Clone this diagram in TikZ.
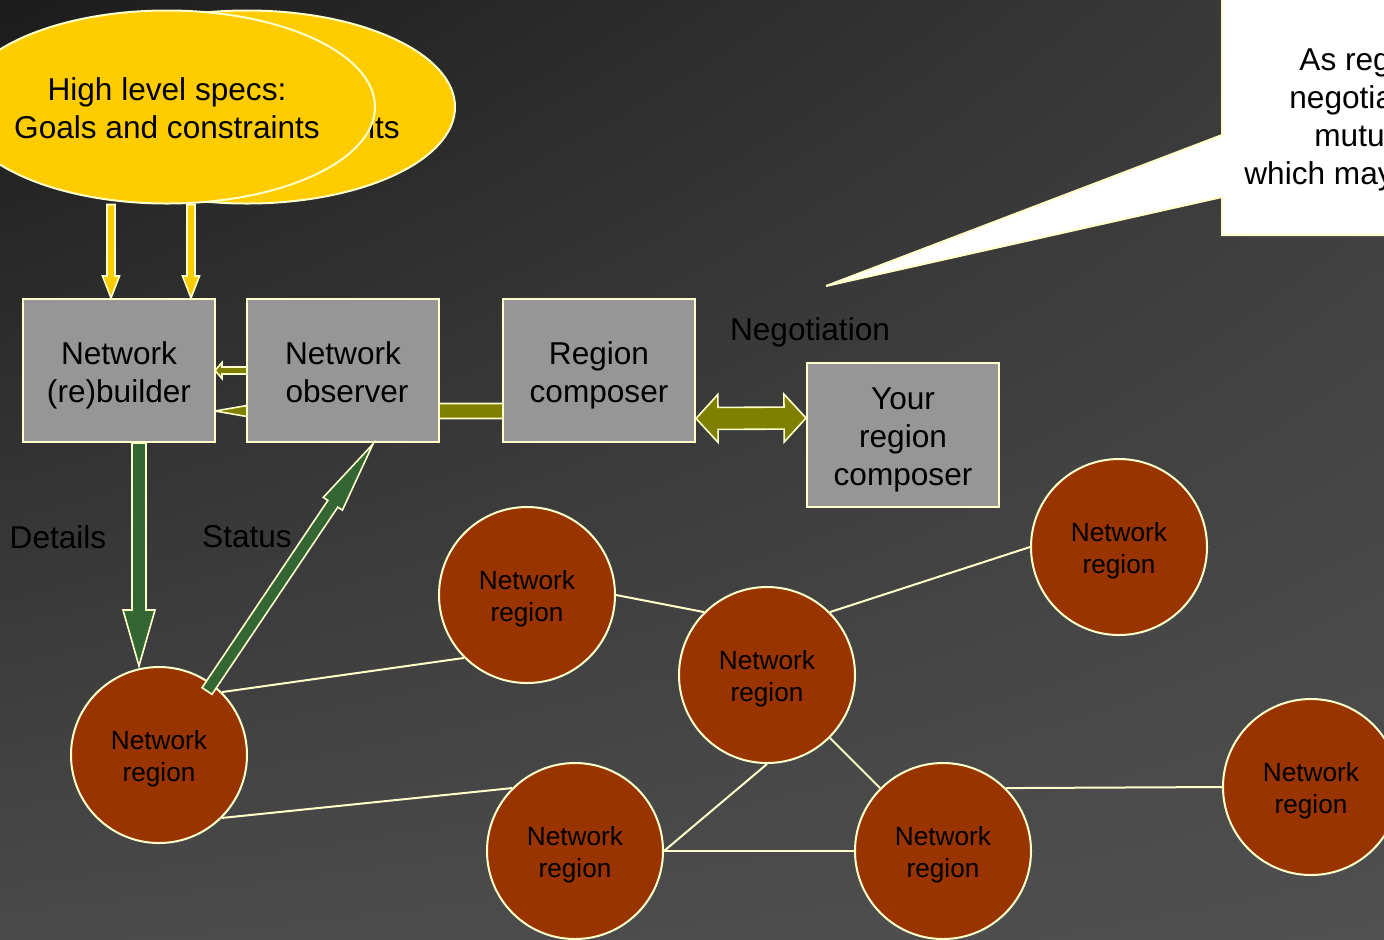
\documentclass[tikz,border=0pt]{standalone}
\usepackage{fontspec}
\setmainfont{Liberation Sans}
\usetikzlibrary{shapes.geometric,calc,shadings}
\definecolor{bgA}{HTML}{1C1C1C}
\definecolor{bgB}{HTML}{3C3C3C}
\definecolor{bgC}{HTML}{4A4A4A}
\definecolor{bgD}{HTML}{505050}
\definecolor{lyel}{HTML}{FFFFCC}
\definecolor{gold}{HTML}{FFCC00}
\definecolor{boxgray}{HTML}{969696}
\definecolor{rust}{HTML}{993300}
\definecolor{dgreen}{HTML}{336633}
\definecolor{olive}{HTML}{808000}
% block arrow: #1 style, #2 tail, #3 tip (both given with parentheses), #4 half shaft, #5 half head, #6 head length
\newcommand\blockarrow[6]{%
  \coordinate (ba-t) at #2;
  \coordinate (ba-h) at #3;
  \coordinate (ba-b) at ($(ba-h)!#6!(ba-t)$);
  \path[#1] ($(ba-t)!#4!90:(ba-h)$) -- ($(ba-b)!#4!-90:(ba-t)$) -- ($(ba-b)!#5!-90:(ba-t)$)
    -- (ba-h) -- ($(ba-b)!#5!90:(ba-t)$) -- ($(ba-b)!#4!90:(ba-t)$) -- ($(ba-t)!#4!-90:(ba-h)$) -- cycle;}
% double block arrow
\newcommand\dblarrow[6]{%
  \coordinate (da-t) at #2;
  \coordinate (da-h) at #3;
  \coordinate (da-bt) at ($(da-t)!#6!(da-h)$);
  \coordinate (da-bh) at ($(da-h)!#6!(da-t)$);
  \path[#1] (da-t) -- ($(da-bt)!#5!90:(da-h)$) -- ($(da-bt)!#4!90:(da-h)$) -- ($(da-bh)!#4!-90:(da-t)$)
    -- ($(da-bh)!#5!-90:(da-t)$) -- (da-h) -- ($(da-bh)!#5!90:(da-t)$) -- ($(da-bh)!#4!90:(da-t)$)
    -- ($(da-bt)!#4!-90:(da-h)$) -- ($(da-bt)!#5!-90:(da-h)$) -- cycle;}
\tikzset{
  bigfont/.style={font=\fontsize{15.8}{19}\selectfont},
  box/.style={rectangle, draw=lyel, line width=1pt, fill=boxgray, minimum width=96pt,
    minimum height=71.5pt, inner sep=0pt},
  boxtext/.style={align=center, bigfont, inner sep=0pt, yshift=-2.5pt},
  region/.style={circle, draw=lyel, line width=1pt, fill=rust, minimum size=88pt, inner sep=0pt},
  regiontext/.style={align=center, font=\fontsize{13.1}{16}\selectfont, inner sep=0pt, yshift=-2pt},
  spec/.style={ellipse, draw=lyel, line width=1pt, fill=gold, minimum width=208pt,
    minimum height=96.5pt, inner sep=0pt},
  spectext/.style={align=center, bigfont, inner sep=0pt, yshift=-0.5pt},
  lbl/.style={bigfont, inner sep=0pt},
  link/.style={draw=lyel, line width=1pt},
  yarrow/.style={fill=gold, draw=lyel, line width=0.8pt},
  oarrow/.style={fill=olive, draw=lyel, line width=0.8pt},
  garrow/.style={fill=dgreen, draw=lyel, line width=0.8pt},
  calloutbox/.style={fill=white, draw=lyel, line width=1pt},
  cotext/.style={bigfont, inner sep=0pt, anchor=base west},
}
\begin{document}
\begin{tikzpicture}[x=0.5pt, y=-0.5pt]
\useasboundingbox (0,0) rectangle (1384,939);
\clip (0,0) rectangle (1384,939);
\shade[upper left=bgA, upper right=bgB, lower left=bgC, lower right=bgD] (0,0) rectangle (1384,939);

% callout
\coordinate (cotip) at (826,286);
\path[calloutbox] (1400,-5) -- (1222,-5) -- (1222,135) -- (cotip) -- (1222,197) -- (1222,235) -- (1400,235) -- cycle;
\node[cotext] (co1) at (1299,70) {As reg};
\node[cotext] (co2) at (1289,108) {negotia};
\node[cotext] (co3) at (1314,146) {mutu};
\node[cotext] (co4) at (1244,184) {which may};

% specs ellipses
\node[spec] (specback) at (247,107) {};
\node[spectext] (specbacktext) at (specback.center) {High level specs:\\Goals and constraints};
\node[spec] (spec) at (167,107) {};
\node[spectext] (spectext) at (spec.center) {High level specs:\\Goals and constraints};

% boxes (positions)
\coordinate (pbuilder) at (119,370.5);
\coordinate (pobserver) at (343,370.5);
\coordinate (prc) at (599,370.5);

% olive arrows behind boxes
\coordinate (bld-e) at (215,370.5);
\blockarrow{oarrow}{($(prc)+(-96,40.5)$)}{($(bld-e)+(0,40.5)$)}{3.75pt}{7.5pt}{43.5pt}
\blockarrow{oarrow}{($(pobserver)+(-60,0)$)}{(bld-e)}{1.75pt}{4pt}{3.5pt}

\node[box] (builder) at (pbuilder) {};
\node[boxtext] (buildertext) at (builder.center) {Network\\(re)builder};
\node[box] (observer) at (pobserver) {};
\node[boxtext, yshift=1.5pt] (observertext) at (observer.center) {Network\\\hspace*{4pt}observer};
\node[box] (rc) at (prc) {};
\node[boxtext] (rctext) at (rc.center) {Region\\composer};
\node[box, minimum height=72pt] (yrc) at (903,435) {};
\node[boxtext] (yrctext) at (yrc.center) {Your\\region\\composer};

% yellow arrows
\blockarrow{yarrow}{($(spec.south)+(-56,0)$)}{($(builder.north)+(-8,0)$)}{2pt}{4.25pt}{11pt}
\blockarrow{yarrow}{($(spec.south)+(24,0)$)}{($(builder.north)+(72,0)$)}{2pt}{4.25pt}{11pt}

% negotiation double arrow
\dblarrow{oarrow}{($(rc.east)+(0,48)$)}{($(yrc.west)+(0,-17)$)}{5.5pt}{12pt}{11pt}

% labels
\node[lbl] (details) at (58,537) {Details};
\node[lbl] (status) at (247,537) {Status};
\node[lbl] (negot) at (810,332) {Negotiation};

% regions
\node[region] (c1) at (159,755) {};
\node[region] (c2) at (527,595) {};
\node[region] (c3) at (767,675) {};
\node[region] (c4) at (1119,547) {};
\node[region] (c5) at (575,851) {};
\node[region] (c6) at (943,851) {};
\node[region] (c7) at (1311,787) {};
\foreach \c in {c1,c2,c3,c4,c5,c6,c7}
  \node[regiontext] (\c text) at (\c.center) {Network\\region};

% links
\draw[link] (c1.45) -- (c2.225);
\draw[link] (c1.-45) -- (c5.135);
\draw[link] (c2.east) -- (c3.135);
\draw[link] (c3.45) -- (c4.west);
\draw[link] (c3.south) -- (c5.east);
\draw[link] (c3.-45) -- (c6.135);
\draw[link] (c5.east) -- (c6.west);
\draw[link] (c6.45) -- (c7.west);

% green arrows
\blockarrow{garrow}{($(builder.south)+(20,0)$)}{($(c1.north)+(-20,0)$)}{3.5pt}{8pt}{28pt}
\blockarrow{garrow}{($(c1.center)+(48,-64)$)}{($(observer.south)+(30,1)$)}{3pt}{5.75pt}{36pt}
\end{tikzpicture}
\end{document}
